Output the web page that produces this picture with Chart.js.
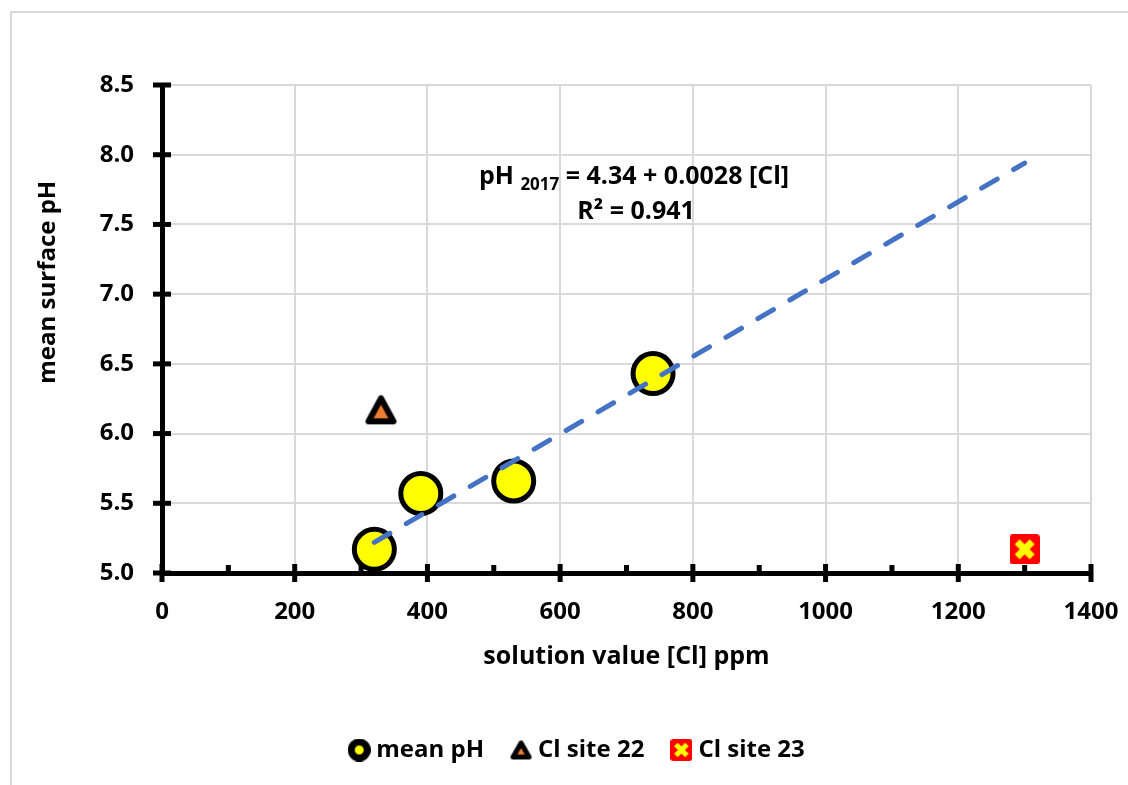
<!DOCTYPE html>
<html>
<head>
<meta charset="utf-8">
<script src="https://cdn.jsdelivr.net/npm/chart.js@4.4.0/dist/chart.umd.min.js"></script>
<style>
  html, body { margin: 0; padding: 0; background: #fff; overflow: hidden; }
  #frame { position: absolute; left: 10px; top: 11px; width: 1300px; height: 900px; border: 2px solid #d9d9d9; }
  #phChart { position: absolute; left: 0; top: 0; }
</style>
</head>
<body>
<div id="frame"></div>
<canvas id="phChart" width="1128" height="785"></canvas>
<script>
// values
let meanX = [320, 390, 530, 740];
let meanY = [5.17, 5.57, 5.66, 6.43];
let site22X = [330];
let site22Y = [6.17];
let site23X = [1300];
let site23Y = [5.17];
let trendX = [320, 1300];
let trendY = [5.22, 7.94];
let xTicks = [0, 200, 400, 600, 800, 1000, 1200, 1400];
let xMinorTicks = [100, 300, 500, 700, 900, 1100, 1300];
let yTicks = [5.0, 5.5, 6.0, 6.5, 7.0, 7.5, 8.0, 8.5];
let seriesNames = ["mean pH", "Cl site 22", "Cl site 23"];

const FONT = "'Open Sans', sans-serif";
const ORANGE = "#ED7D31";

function toPoints(xs, ys) {
  return xs.map((x, i) => ({ x: x, y: ys[i] }));
}

// little canvases used as point styles
function triangleImg(size, lw) {
  let c = document.createElement("canvas");
  c.width = size; c.height = size;
  let g = c.getContext("2d");
  let m = lw / 2 + 1;
  g.beginPath();
  g.moveTo(size / 2, m + 1);
  g.lineTo(size - m, size - m - 1);
  g.lineTo(m, size - m - 1);
  g.closePath();
  g.fillStyle = ORANGE;
  g.fill();
  g.lineJoin = "round";
  g.lineWidth = lw;
  g.strokeStyle = "#000";
  g.stroke();
  return c;
}

function crossImg(size, lw) {
  let c = document.createElement("canvas");
  c.width = size; c.height = size;
  let g = c.getContext("2d");
  g.fillStyle = "#FF0000";
  g.beginPath();
  g.roundRect(0, 0, size, size, 3);
  g.fill();
  let p = size * 0.25;
  g.strokeStyle = "#FFFF00";
  g.lineWidth = lw;
  g.beginPath();
  g.moveTo(p, p); g.lineTo(size - p, size - p);
  g.moveTo(size - p, p); g.lineTo(p, size - p);
  g.stroke();
  return c;
}

function circleImg(size, lw) {
  let c = document.createElement("canvas");
  c.width = size; c.height = size;
  let g = c.getContext("2d");
  g.beginPath();
  g.arc(size / 2, size / 2, size / 2 - lw / 2, 0, Math.PI * 2);
  g.fillStyle = "#FFFF00";
  g.fill();
  g.lineWidth = lw;
  g.strokeStyle = "#000";
  g.stroke();
  return c;
}

let legendIcons = [circleImg(23, 7), triangleImg(23, 5), crossImg(22, 5)];

// crossing tick marks on both axes, minor ticks on x
const axisTicks = {
  id: "axisTicks",
  beforeDatasetsDraw(chart) {
    let ctx = chart.ctx;
    let xs = chart.scales.x, ys = chart.scales.y;
    let y0 = ys.getPixelForValue(5.0);
    let x0 = xs.getPixelForValue(0);
    ctx.save();
    ctx.strokeStyle = "#000";
    ctx.lineWidth = 5;
    xTicks.forEach(v => {
      let px = xs.getPixelForValue(v);
      ctx.beginPath(); ctx.moveTo(px, y0 - 9); ctx.lineTo(px, y0 + 9); ctx.stroke();
    });
    xMinorTicks.forEach(v => {
      let px = xs.getPixelForValue(v);
      ctx.beginPath(); ctx.moveTo(px, y0 - 8); ctx.lineTo(px, y0); ctx.stroke();
    });
    yTicks.forEach(v => {
      let py = ys.getPixelForValue(v);
      ctx.beginPath(); ctx.moveTo(x0 - 9, py); ctx.lineTo(x0 + 9, py); ctx.stroke();
    });
    ctx.restore();
  }
};

// regression equation text
const equationText = {
  id: "equationText",
  afterDraw(chart) {
    let ctx = chart.ctx;
    let cx = 634;
    ctx.save();
    ctx.fillStyle = "#000";
    ctx.textBaseline = "alphabetic";
    let big = "bold 25px " + FONT, small = "bold 17px " + FONT;
    let parts = [["pH ", big, 0], ["2017", small, 6], [" = 4.34 + 0.0028 [Cl]", big, 0]];
    let total = 0;
    parts.forEach(p => { ctx.font = p[1]; total += ctx.measureText(p[0]).width; });
    let x = cx - total / 2;
    parts.forEach(p => {
      ctx.font = p[1];
      ctx.textAlign = "left";
      ctx.fillText(p[0], x, 184 + p[2]);
      x += ctx.measureText(p[0]).width;
    });
    ctx.font = big;
    ctx.textAlign = "center";
    ctx.fillText("R\u00B2 = 0.941", 636, 219);
    ctx.restore();
  }
};

// legend sits a little right of the page centre in the original
const legendShift = {
  id: "legendShift",
  beforeDraw(chart) {
    if (!chart.legend._shifted) {
      chart.legend.left += 34;
      chart.legend.right += 34;
      chart.legend._shifted = true;
    }
  }
};

let ctx = document.getElementById("phChart").getContext("2d");
let phChart = new Chart(ctx, {
  data: {
    datasets: [
      {
        type: "line",
        label: "trend",
        data: toPoints(trendX, trendY),
        borderColor: "#4472C4",
        borderWidth: 5,
        borderDash: [18, 19],
        borderCapStyle: "round",
        pointRadius: 0,
        fill: false,
        order: 0
      },
      {
        type: "scatter",
        label: seriesNames[0],
        data: toPoints(meanX, meanY),
        pointStyle: "circle",
        pointRadius: 20,
        pointBorderWidth: 5,
        backgroundColor: "#FFFF00",
        borderColor: "#000000",
        order: 1
      },
      {
        type: "scatter",
        label: seriesNames[1],
        data: toPoints(site22X, site22Y),
        pointStyle: triangleImg(33, 6),
        pointRadius: 16,
        order: 1
      },
      {
        type: "scatter",
        label: seriesNames[2],
        data: toPoints(site23X, site23Y),
        pointStyle: crossImg(30, 7),
        pointRadius: 15,
        order: 1
      }
    ]
  },
  options: {
    responsive: false,
    animation: false,
    layout: { padding: { left: 0, right: 37, top: 85, bottom: 13 } },
    scales: {
      x: {
        type: "linear",
        min: 0,
        max: 1400,
        afterFit(scale) { scale.height = 133; scale.paddingLeft = 0; scale.paddingRight = 0; },
        afterBuildTicks(scale) { scale.ticks = xTicks.map(v => ({ value: v })); },
        grid: { color: "#d9d9d9", lineWidth: 2, drawTicks: false },
        border: { color: "#000", width: 5 },
        ticks: {
          color: "#000",
          padding: 25,
          font: { family: FONT, size: 24, weight: "bold" },
          callback: v => String(v)
        },
        title: {
          display: true,
          text: "solution value [Cl] ppm",
          color: "#000",
          padding: { top: 0, bottom: 34 },
          font: { family: FONT, size: 25, weight: "bold" }
        }
      },
      y: {
        type: "linear",
        min: 5.0,
        max: 8.5,
        afterFit(scale) { scale.width = 162; scale.paddingTop = 0; scale.paddingBottom = 0; },
        afterBuildTicks(scale) { scale.ticks = yTicks.map(v => ({ value: v })); },
        grid: { color: "#d9d9d9", lineWidth: 2, drawTicks: false },
        border: { color: "#000", width: 5 },
        ticks: {
          color: "#000",
          padding: 28,
          font: { family: FONT, size: 24, weight: "bold" },
          callback: v => v.toFixed(1)
        },
        title: {
          display: true,
          // leading spaces push the title up the axis, as in the original
          text: "\u00A0".repeat(15) + "mean surface pH",
          color: "#000",
          padding: { top: 34, bottom: 0 },
          font: { family: FONT, size: 24, weight: "bold" }
        }
      }
    },
    plugins: {
      tooltip: { enabled: false },
      legend: {
        display: true,
        position: "bottom",
        labels: {
          color: "#000",
          usePointStyle: true,
          pointStyleWidth: 10,
          padding: 32,
          font: { family: FONT, size: 24, weight: "bold" },
          generateLabels(chart) {
            return seriesNames.map((name, i) => ({
              text: name,
              pointStyle: legendIcons[i],
              datasetIndex: i + 1,
              fontColor: "#000",
              lineWidth: 0,
              hidden: false
            }));
          }
        }
      }
    }
  },
  plugins: [axisTicks, equationText, legendShift]
});
</script>
</body>
</html>
